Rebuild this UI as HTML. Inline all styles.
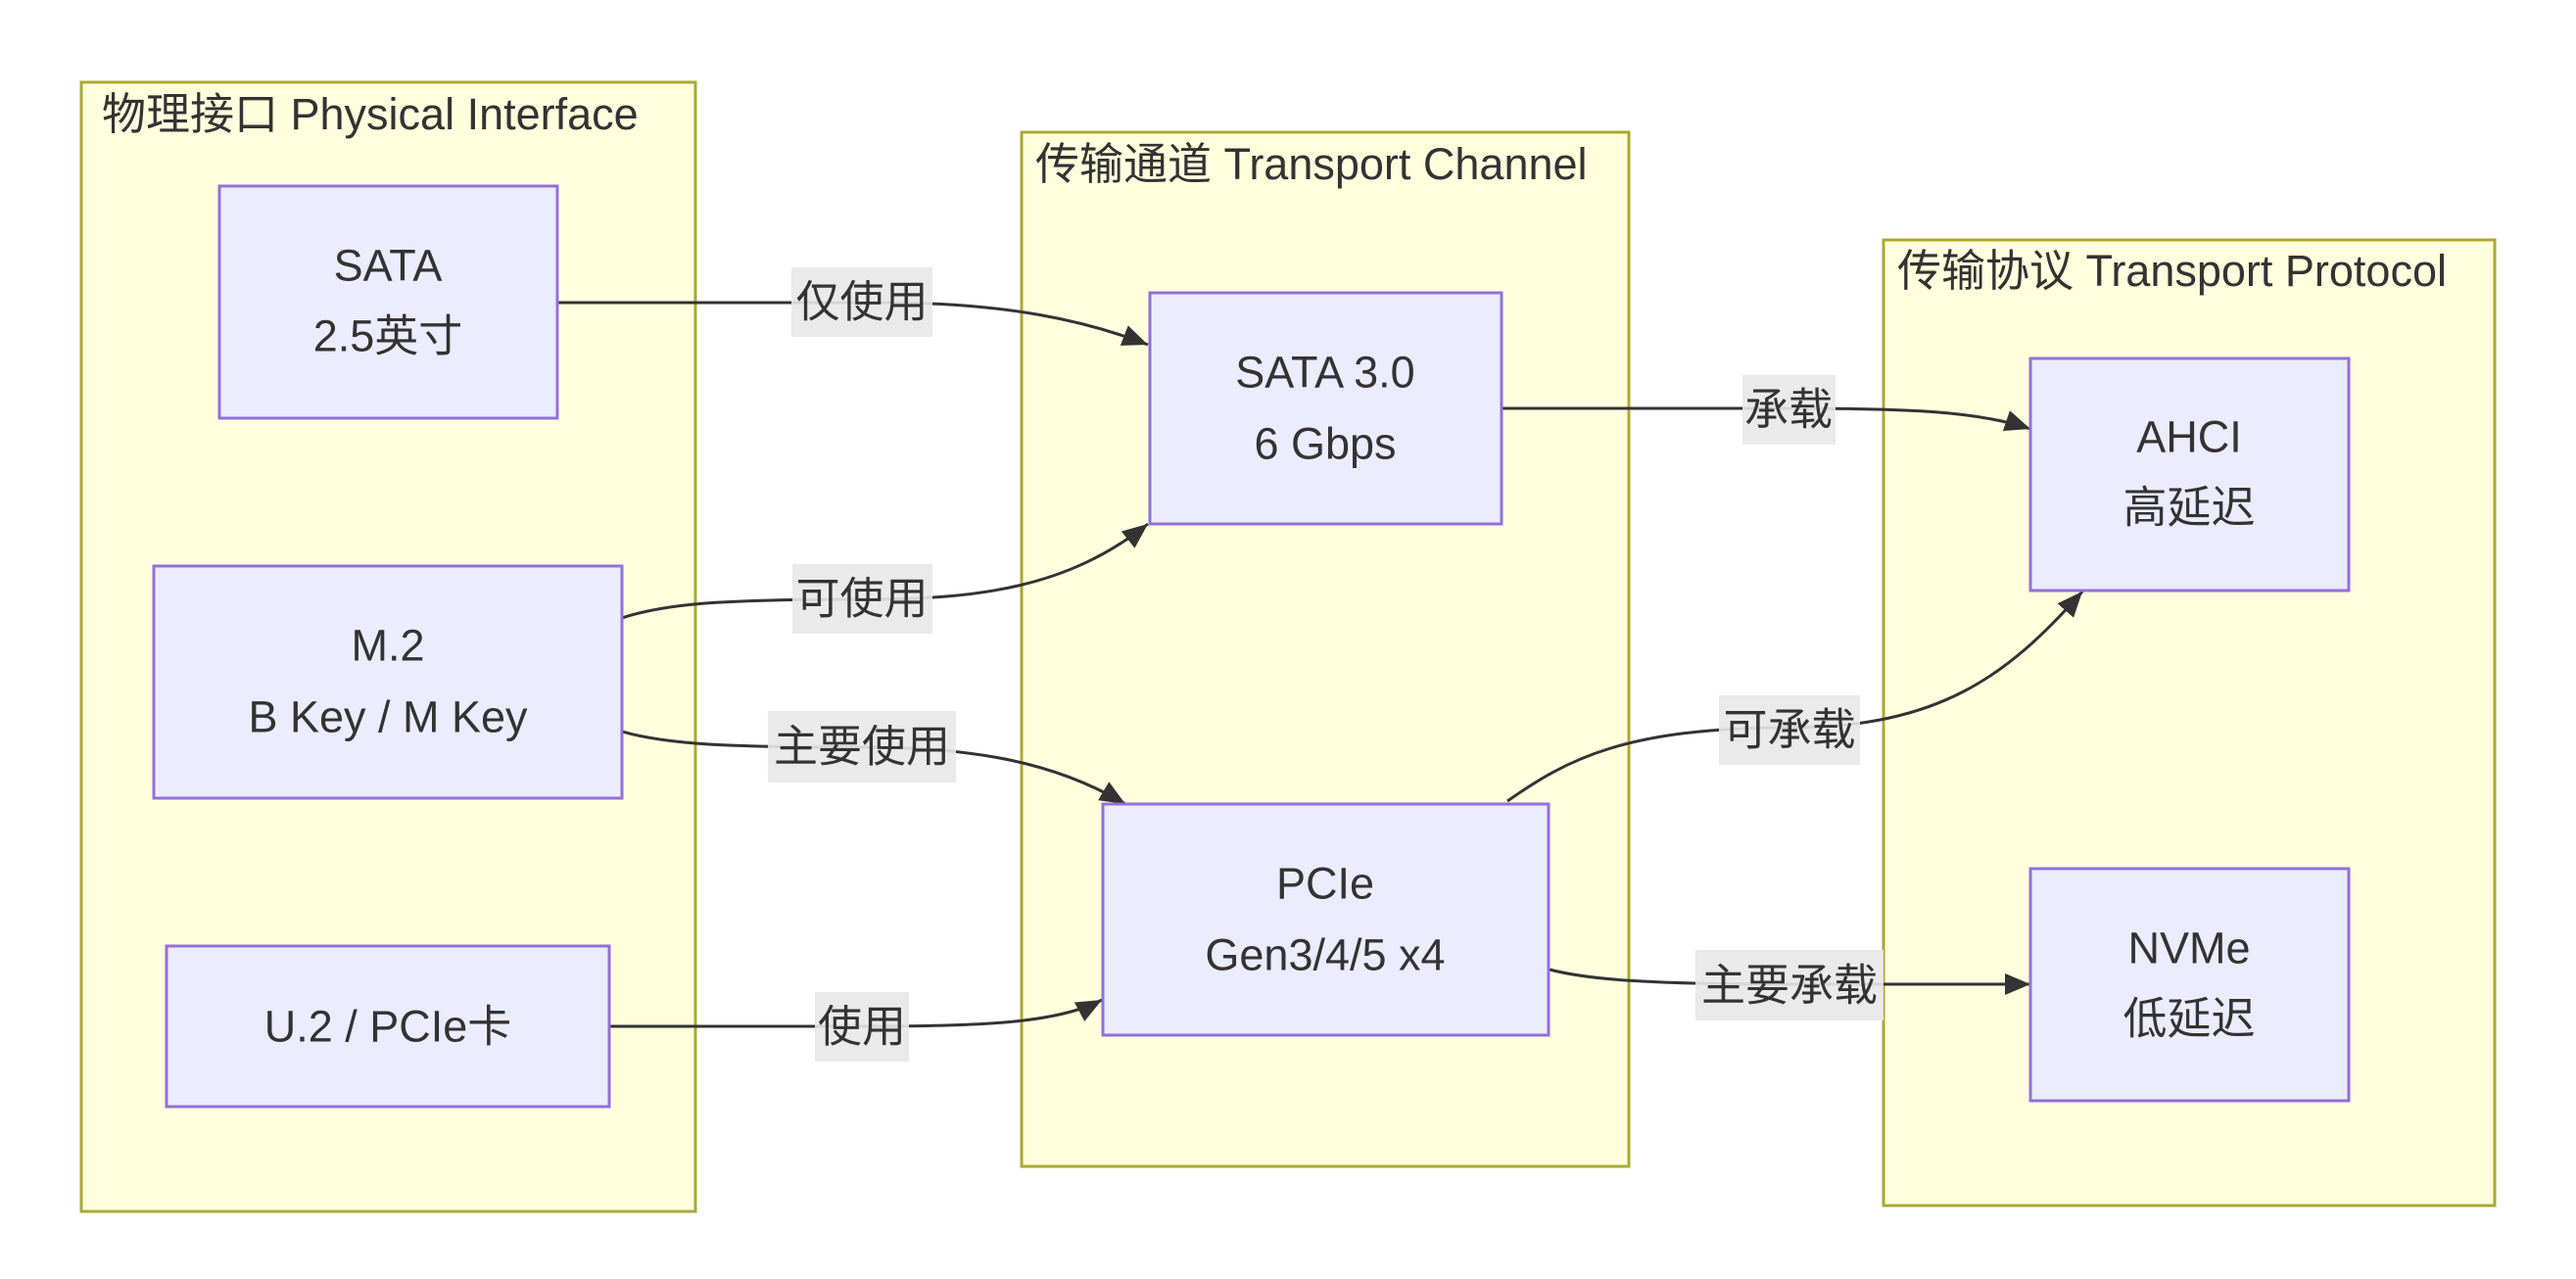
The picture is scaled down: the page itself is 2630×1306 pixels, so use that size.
<!DOCTYPE html>
<html><head><meta charset="utf-8"><style>
html,body{margin:0;padding:0;background:#fff;}
svg{display:block;}
text{font-family:"Liberation Sans","Noto Sans CJK SC",sans-serif;fill:#333;font-size:45px;}
</style></head><body>
<svg width="2630" height="1306" viewBox="0 0 2630 1306" xmlns="http://www.w3.org/2000/svg">
<defs>
<marker id="a" markerUnits="userSpaceOnUse" markerWidth="30" markerHeight="30" refX="26" refY="11" orient="auto">
<path d="M0,0 L26,11 L0,22 z" fill="#333"/>
</marker>
</defs>
<g fill="#ffffde" stroke="#aaaa33" stroke-width="3">
<rect x="83" y="84" width="627" height="1153"/>
<rect x="1043" y="135" width="620" height="1056"/>
<rect x="1923" y="245" width="624" height="986"/>
</g>
<text x="104" y="132">物理接口 Physical Interface</text>
<text x="1057" y="183">传输通道 Transport Channel</text>
<text x="1937" y="292">传输协议 Transport Protocol</text>
<g fill="none" stroke="#333" stroke-width="3">
<path d="M569,309 L900,309 C1030,309 1110,328 1172,352" marker-end="url(#a)"/>
<path d="M635,631 C680,616 740,612 880,612 C1000,612 1090,600 1172,535" marker-end="url(#a)"/>
<path d="M635,747 C680,760 740,763 880,763 C1000,763 1080,780 1149,821" marker-end="url(#a)"/>
<path d="M622,1048 L880,1048 C1000,1048 1080,1045 1125,1021" marker-end="url(#a)"/>
<path d="M1533,417 L1826,417 C1950,417 2020,420 2073,438" marker-end="url(#a)"/>
<path d="M1539,818 C1600,775 1660,743 1827,743 C1980,743 2050,690 2126,604" marker-end="url(#a)"/>
<path d="M1582,990 C1620,1000 1680,1005 1827,1005 L2073,1005" marker-end="url(#a)"/>
</g>
<g fill="#ECECFF" stroke="#9370DB" stroke-width="3">
<rect x="224" y="190" width="345" height="237"/>
<rect x="157" y="578" width="478" height="237"/>
<rect x="170" y="966" width="452" height="164"/>
<rect x="1174" y="299" width="359" height="236"/>
<rect x="1126" y="821" width="455" height="236"/>
<rect x="2073" y="366" width="325" height="237"/>
<rect x="2073" y="887" width="325" height="237"/>
</g>
<g text-anchor="middle" dominant-baseline="central">
<text x="396" y="271">SATA</text><text x="396" y="343">2.5英寸</text>
<text x="396" y="659">M.2</text><text x="396" y="732">B Key / M Key</text>
<text x="396" y="1048">U.2 / PCIe卡</text>
<text x="1353" y="380">SATA 3.0</text><text x="1353" y="453">6 Gbps</text>
<text x="1353" y="902">PCIe</text><text x="1353" y="975">Gen3/4/5 x4</text>
<text x="2235" y="446">AHCI</text><text x="2235" y="518">高延迟</text>
<text x="2235" y="968">NVMe</text><text x="2235" y="1040">低延迟</text>
</g>
<g fill="#e8e8e8" opacity="0.9">
<rect x="808" y="273" width="144" height="71"/>
<rect x="809" y="576" width="143" height="71"/>
<rect x="784" y="726" width="192" height="73"/>
<rect x="832" y="1013" width="96" height="71"/>
<rect x="1779" y="383" width="95" height="71"/>
<rect x="1755" y="710" width="144" height="71"/>
<rect x="1731" y="970" width="192" height="72"/>
</g>
<g text-anchor="middle" dominant-baseline="central">
<text x="880" y="308">仅使用</text>
<text x="880" y="611">可使用</text>
<text x="880" y="762">主要使用</text>
<text x="880" y="1048">使用</text>
<text x="1826" y="418">承载</text>
<text x="1827" y="745">可承载</text>
<text x="1827" y="1006">主要承载</text>
</g>
</svg>
</body></html>
